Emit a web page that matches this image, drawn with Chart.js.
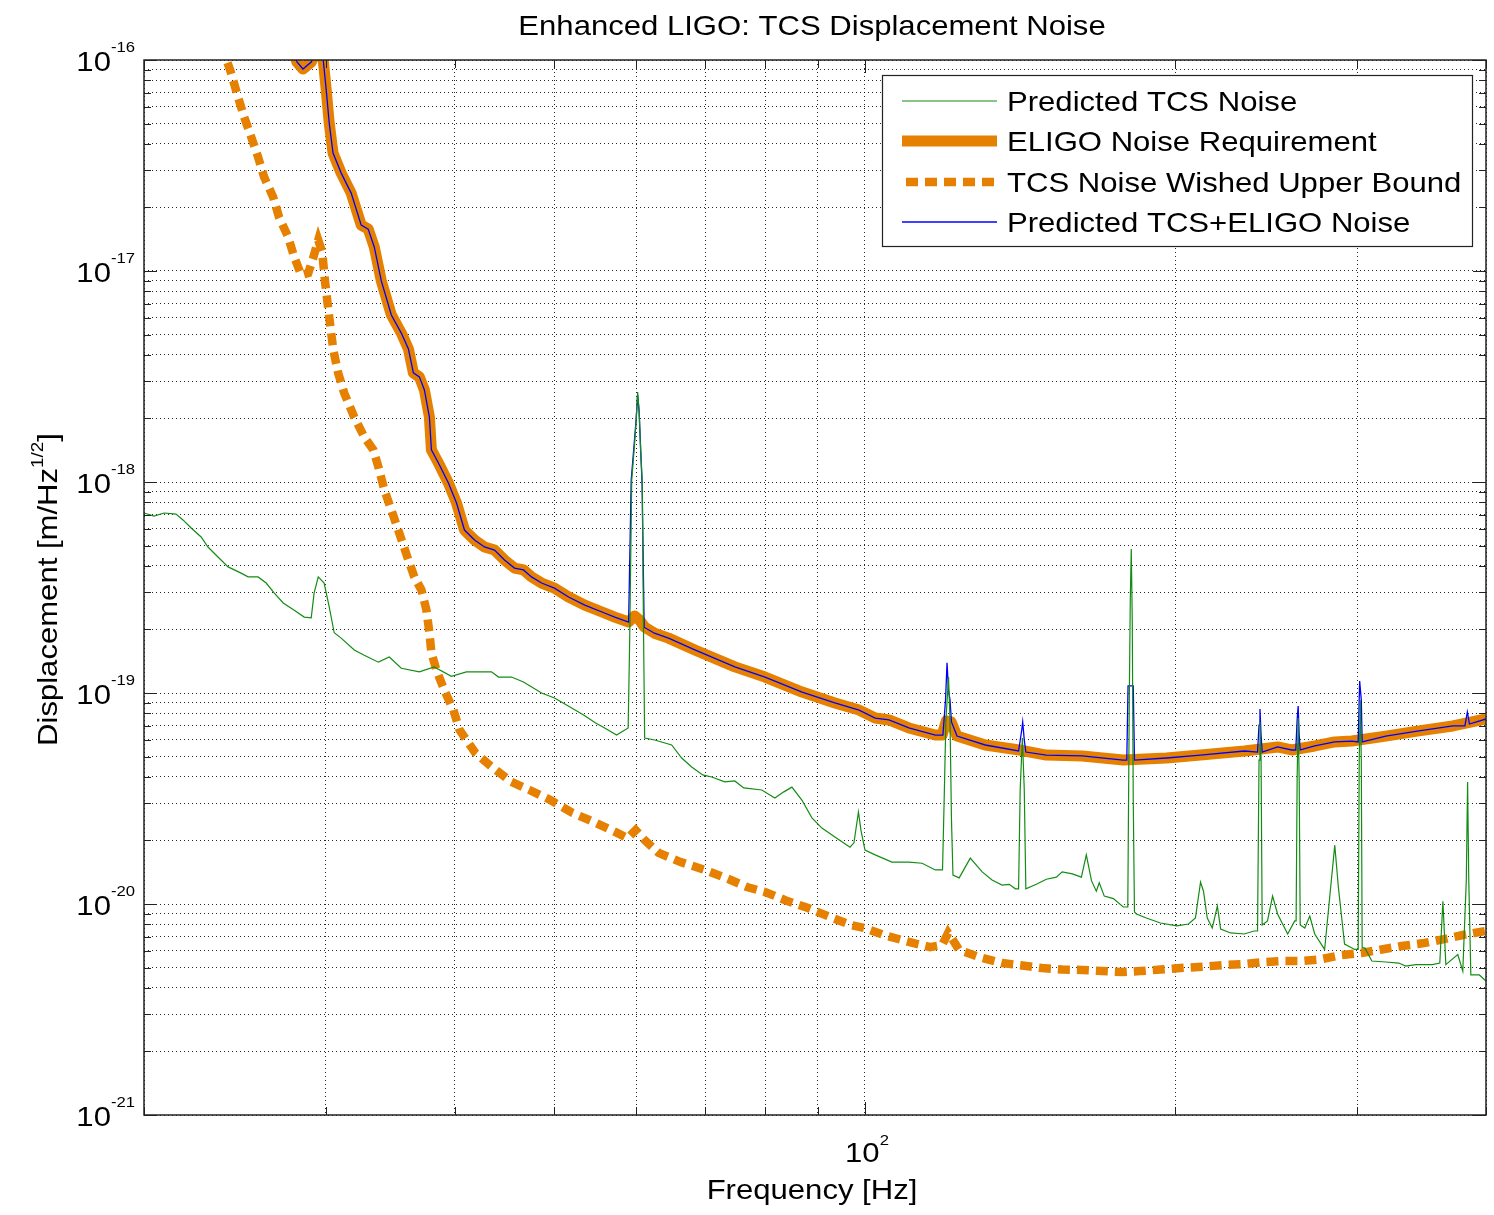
<!DOCTYPE html>
<html>
<head>
<meta charset="utf-8">
<title>Enhanced LIGO: TCS Displacement Noise</title>
<script src="https://cdn.jsdelivr.net/npm/chart.js@4.4.1/dist/chart.umd.min.js"></script>
<style>
  html, body { margin: 0; padding: 0; background: #fff; }
  #wrap { width: 1494px; height: 1215px; }
</style>
</head>
<body>
<div id="wrap"><canvas id="noiseChart" width="1494" height="1215"></canvas></div>
<script>
// Values (Hz, m/rtHz)

// ELIGO noise requirement (thick orange)
const reqFreq = [27.65, 28.14, 28.52, 29.05, 29.44, 29.84, 30.04, 30.24, 30.50, 31.06,
  31.76, 32.48, 32.99, 33.44, 33.97, 34.74, 35.52, 36.09, 36.49, 36.98,
  37.40, 37.82, 37.99, 38.59, 39.46, 40.18, 40.90, 41.83, 42.77, 43.74,
  44.72, 45.73, 46.66, 47.50, 48.58, 50.0, 51.6, 53.5, 55.6, 57.2,
  59.0, 59.8, 60.45, 61.1, 62.5, 64.5, 68.4, 74.8, 80.0, 86.9,
  93.5, 98.7, 102.3, 105.5, 110.3, 117.0, 118.8, 119.9, 121.2, 122.8,
  130.8, 141.1, 149.9, 162.4, 178.0, 196.0, 211.5, 233.3, 251.2, 259.2,
  272.9, 285.4, 296.5, 319.8, 344.3, 371.5, 400];
const reqAsd = [1.244e-16, 9.78e-17, 9.06e-17, 9.78e-17, 1.115e-16, 1.0e-16, 7.21e-17, 5.03e-17, 3.62e-17, 2.91e-17,
  2.34e-17, 1.65e-17, 1.58e-17, 1.30e-17, 8.97e-18, 6.19e-18, 5.08e-18, 4.27e-18, 3.29e-18, 3.15e-18,
  2.73e-18, 2.03e-18, 1.42e-18, 1.23e-18, 9.89e-19, 7.95e-19, 5.92e-19, 5.31e-19, 4.92e-19, 4.76e-19,
  4.27e-19, 3.91e-19, 3.83e-19, 3.55e-19, 3.32e-19, 3.14e-19, 2.85e-19, 2.61e-19, 2.42e-19, 2.29e-19,
  2.17e-19, 2.32e-19, 2.22e-19, 2.06e-19, 1.92e-19, 1.82e-19, 1.60e-19, 1.33e-19, 1.19e-19, 1.01e-19,
  8.97e-20, 8.30e-20, 7.61e-20, 7.45e-20, 6.83e-20, 6.32e-20, 6.32e-20, 7.37e-20, 7.30e-20, 6.25e-20,
  5.67e-20, 5.37e-20, 5.08e-20, 5.03e-20, 4.81e-20, 4.92e-20, 5.08e-20, 5.31e-20, 5.55e-20, 5.37e-20,
  5.61e-20, 5.86e-20, 5.92e-20, 6.25e-20, 6.61e-20, 6.98e-20, 7.53e-20];

// TCS noise wished upper bound (dashed orange)
const boundFreq = [23.75, 24.24, 24.67, 25.01, 25.41, 25.80, 26.15, 26.68, 27.04, 27.59,
  27.97, 28.41, 28.86, 29.17, 29.51, 29.77, 29.97, 30.24, 30.52, 30.85,
  31.27, 31.98, 32.70, 33.37, 33.75, 34.20, 34.74, 35.36, 36.0, 36.57,
  37.15, 37.57, 37.82, 37.99, 38.41, 39.10, 39.90, 40.45, 41.92, 43.24,
  45.42, 47.29, 49.55, 52.06, 54.57, 57.32, 58.88, 59.94, 61.15, 63.10,
  66.27, 69.93, 73.28, 76.98, 80.0, 83.81, 88.07, 92.48, 96.92, 100.0,
  104.3, 110.3, 115.6, 118.8, 120.4, 121.7, 123.4, 129.9, 135.8, 142.1,
  148.5, 155.3, 162.4, 169.8, 177.6, 184.9, 193.4, 202.2, 212.9, 223.1,
  233.3, 244.0, 254.0, 265.0, 275.9, 289.8, 303.0, 316.9, 331.4, 347.0,
  363.3, 379.8, 400];
const boundAsd = [1.18e-16, 8.97e-17, 6.68e-17, 5.37e-17, 4.31e-17, 3.47e-17, 2.79e-17, 2.24e-17, 1.80e-17, 1.45e-17,
  1.165e-17, 9.57e-18, 9.78e-18, 1.15e-17, 1.40e-17, 1.23e-17, 8.77e-18, 6.05e-18, 4.22e-18, 3.29e-18,
  2.64e-18, 2.03e-18, 1.635e-18, 1.42e-18, 1.18e-18, 9.17e-19, 7.37e-19, 5.73e-19, 4.41e-19, 3.55e-19,
  3.08e-19, 2.47e-19, 1.93e-19, 1.55e-19, 1.29e-19, 1.03e-19, 8.31e-20, 6.68e-20, 5.19e-20, 4.56e-20,
  3.79e-20, 3.47e-20, 3.11e-20, 2.70e-20, 2.45e-20, 2.19e-20, 2.05e-20, 2.24e-20, 2.01e-20, 1.745e-20,
  1.58e-20, 1.45e-20, 1.33e-20, 1.20e-20, 1.14e-20, 1.04e-20, 9.57e-21, 8.68e-21, 7.95e-21, 7.69e-21,
  7.13e-21, 6.61e-21, 6.25e-21, 6.39e-21, 7.29e-21, 6.75e-21, 6.05e-21, 5.55e-21, 5.25e-21, 5.11e-21,
  4.97e-21, 4.89e-21, 4.87e-21, 4.81e-21, 4.76e-21, 4.81e-21, 4.89e-21, 4.97e-21, 5.05e-21, 5.14e-21,
  5.19e-21, 5.31e-21, 5.37e-21, 5.37e-21, 5.46e-21, 5.73e-21, 5.86e-21, 6.09e-21, 6.32e-21, 6.51e-21,
  6.80e-21, 7.13e-21, 7.45e-21];

// Predicted TCS noise (thin green)
const tcsFreq = [20.0, 20.45, 20.92, 21.48, 21.82, 22.22, 22.72, 23.07, 23.59, 24.13,
  24.84, 25.23, 25.80, 26.27, 26.74, 27.29, 27.97, 28.60, 29.05, 29.24,
  29.51, 29.90, 30.24, 30.58, 31.06, 31.98, 32.70, 33.75, 34.58, 35.52,
  36.98, 38.23, 39.72, 41.08, 43.44, 44.13, 45.42, 46.66, 48.58, 50.0,
  51.37, 53.36, 54.81, 55.93, 57.44, 58.94, 59.14, 59.41, 59.80, 60.00,
  60.20, 60.40, 60.60, 60.81, 61.01, 61.15, 62.53, 64.95, 66.42, 67.92,
  69.61, 71.03, 73.12, 74.78, 76.29, 79.43, 81.77, 83.44, 84.95, 86.86,
  88.83, 90.83, 93.51, 96.70, 97.57, 98.55, 99.10, 100.0, 102.3, 106.2,
  110.3, 113.6, 117.0, 118.9, 119.3, 119.8, 120.5, 120.9, 121.3, 121.7,
  123.4, 126.5, 129.9, 132.8, 135.8, 138.0, 139.9, 140.9, 141.4, 142.1,
  142.7, 143.2, 146.6, 149.9, 153.3, 155.3, 158.9, 162.1, 163.9, 165.8,
  167.6, 168.7, 170.6, 174.1, 178.0, 179.8, 180.4, 180.8, 181.2, 181.6,
  182.0, 182.5, 183.3, 187.4, 193.4, 200.6, 205.9, 209.1, 211.5, 212.9,
  214.7, 217.1, 219.6, 221.2, 226.2, 233.1, 238.4, 240.2, 241.0, 241.5,
  242.1, 242.7, 245.6, 248.4, 251.2, 256.9, 261.0, 261.8, 262.4, 263.0,
  263.6, 264.2, 266.9, 269.9, 272.9, 279.0, 282.2, 285.4, 287.7, 291.7,
  298.4, 300.7, 301.4, 302.1, 302.8, 303.4, 305.2, 310.0, 319.8, 329.2,
  334.4, 342.0, 354.8, 360.8, 363.3, 365.7, 375.6, 379.8, 382.8, 383.9,
  384.9, 386.7, 394.1, 400];
const tcsAsd = [7.13e-19, 6.90e-19, 7.13e-19, 7.05e-19, 6.61e-19, 6.05e-19, 5.49e-19, 4.92e-19, 4.41e-19, 3.96e-19,
  3.70e-19, 3.55e-19, 3.55e-19, 3.32e-19, 2.98e-19, 2.67e-19, 2.47e-19, 2.29e-19, 2.27e-19, 2.98e-19,
  3.55e-19, 3.32e-19, 2.56e-19, 1.93e-19, 1.82e-19, 1.60e-19, 1.51e-19, 1.40e-19, 1.48e-19, 1.31e-19,
  1.26e-19, 1.33e-19, 1.20e-19, 1.26e-19, 1.26e-19, 1.19e-19, 1.19e-19, 1.127e-19, 1.00e-19, 9.47e-20,
  8.77e-20, 7.87e-20, 7.21e-20, 6.83e-20, 6.32e-20, 6.83e-20, 1.78e-19, 1.02e-18, 1.53e-18, 1.97e-18,
  2.67e-18, 2.19e-18, 1.42e-18, 1.02e-18, 1.78e-19, 6.12e-20, 5.99e-20, 5.67e-20, 4.92e-20, 4.46e-20,
  4.09e-20, 4.00e-20, 3.79e-20, 3.83e-20, 3.55e-20, 3.47e-20, 3.18e-20, 3.40e-20, 3.58e-20, 3.11e-20,
  2.56e-20, 2.29e-20, 2.08e-20, 1.86e-20, 1.95e-20, 2.73e-20, 2.24e-20, 1.80e-20, 1.71e-20, 1.58e-20,
  1.58e-20, 1.56e-20, 1.45e-20, 1.45e-20, 2.94e-20, 7.45e-20, 1.19e-19, 7.45e-20, 2.50e-20, 1.37e-20,
  1.33e-20, 1.65e-20, 1.42e-20, 1.30e-20, 1.23e-20, 1.24e-20, 1.18e-20, 1.18e-20, 3.47e-20, 6.12e-20,
  3.47e-20, 1.18e-20, 1.24e-20, 1.31e-20, 1.34e-20, 1.42e-20, 1.39e-20, 1.34e-20, 1.71e-20, 1.29e-20,
  1.15e-20, 1.26e-20, 1.09e-20, 1.06e-20, 9.68e-21, 9.68e-21, 9.27e-20, 2.76e-19, 4.81e-19, 2.22e-19,
  3.11e-20, 9.17e-21, 8.97e-21, 8.58e-21, 8.13e-21, 7.87e-21, 8.04e-21, 8.58e-21, 1.27e-20, 1.15e-20,
  8.58e-21, 7.69e-21, 9.78e-21, 7.61e-21, 7.29e-21, 7.21e-21, 7.45e-21, 7.45e-21, 4.81e-20, 7.29e-20,
  4.81e-20, 7.95e-21, 8.31e-21, 1.09e-20, 8.97e-21, 7.21e-21, 8.31e-21, 8.31e-21, 3.87e-20, 7.61e-20,
  3.87e-20, 7.95e-21, 7.69e-21, 8.77e-21, 7.21e-21, 6.09e-21, 1.08e-20, 1.90e-20, 1.20e-20, 6.46e-21,
  6.09e-21, 6.09e-21, 4.81e-20, 9.27e-20, 4.81e-20, 6.19e-21, 6.19e-21, 5.37e-21, 5.31e-21, 5.25e-21,
  5.08e-21, 5.16e-21, 5.16e-21, 5.25e-21, 1.03e-20, 5.16e-21, 5.76e-21, 4.81e-21, 1.30e-20, 3.79e-20,
  1.30e-20, 4.61e-21, 4.61e-21, 4.31e-21];

// Predicted TCS+ELIGO noise (thin blue)
const sumFreq = [27.65, 28.14, 28.52, 29.05, 29.44, 29.84, 30.04, 30.24, 30.50, 31.06,
  31.76, 32.48, 32.99, 33.44, 33.97, 34.74, 35.52, 36.09, 36.49, 36.98,
  37.40, 37.82, 37.99, 38.59, 39.46, 40.18, 40.90, 41.83, 42.77, 43.74,
  44.72, 45.73, 46.66, 47.50, 48.58, 50.0, 51.6, 53.5, 55.6, 57.2,
  59.0, 59.34, 60.0, 60.2, 60.4, 60.81, 61.08, 62.5, 64.5, 68.4,
  74.8, 80.0, 86.9, 93.5, 98.7, 102.3, 105.5, 110.3, 117.0, 119.0,
  119.7, 120.1, 120.5, 120.9, 121.3, 122.8, 130.8, 140.9, 141.9, 142.2,
  142.7, 143.2, 149.9, 162.4, 178.0, 179.4, 179.9, 182.0, 182.5, 196.0,
  211.5, 233.3, 240.2, 241.0, 241.5, 242.1, 242.7, 251.2, 259.2, 261.6,
  262.4, 263.0, 263.6, 264.2, 272.9, 285.4, 296.5, 300.7, 301.7, 302.8,
  303.4, 319.8, 344.3, 371.5, 381.6, 383.7, 385.5, 400];
const sumAsd = [1.244e-16, 9.78e-17, 9.06e-17, 9.78e-17, 1.115e-16, 1.0e-16, 7.21e-17, 5.03e-17, 3.62e-17, 2.91e-17,
  2.34e-17, 1.65e-17, 1.58e-17, 1.30e-17, 8.97e-18, 6.19e-18, 5.08e-18, 4.27e-18, 3.29e-18, 3.15e-18,
  2.73e-18, 2.03e-18, 1.42e-18, 1.23e-18, 9.89e-19, 7.95e-19, 5.92e-19, 5.31e-19, 4.92e-19, 4.76e-19,
  4.27e-19, 3.91e-19, 3.83e-19, 3.55e-19, 3.32e-19, 3.14e-19, 2.85e-19, 2.61e-19, 2.42e-19, 2.29e-19,
  2.17e-19, 1.02e-18, 1.97e-18, 2.58e-18, 2.15e-18, 9.68e-19, 2.05e-19, 1.92e-19, 1.82e-19, 1.60e-19,
  1.33e-19, 1.19e-19, 1.01e-19, 8.97e-20, 8.30e-20, 7.61e-20, 7.45e-20, 6.83e-20, 6.32e-20, 6.32e-20,
  9.27e-20, 1.39e-19, 1.03e-19, 9.27e-20, 7.29e-20, 6.25e-20, 5.67e-20, 5.31e-20, 6.68e-20, 7.29e-20,
  5.99e-20, 5.25e-20, 5.08e-20, 5.03e-20, 4.81e-20, 4.81e-20, 1.08e-19, 1.08e-19, 4.81e-20, 4.92e-20,
  5.08e-20, 5.31e-20, 5.25e-20, 7.05e-20, 8.40e-20, 6.32e-20, 5.25e-20, 5.55e-20, 5.37e-20, 5.37e-20,
  7.45e-20, 8.68e-20, 6.32e-20, 5.37e-20, 5.61e-20, 5.86e-20, 5.92e-20, 5.86e-20, 1.14e-19, 9.27e-20,
  5.86e-20, 6.25e-20, 6.61e-20, 6.98e-20, 6.98e-20, 8.13e-20, 7.13e-20, 7.53e-20];

// axis ticks / grid
const xGrid = [20, 30, 40, 50, 60, 70, 80, 90, 100, 200, 300, 400];
const xLabelled = [100];
const yDecades = [-21, -20, -19, -18, -17, -16];

const FONT = '"Liberation Sans", Arial, Helvetica, sans-serif';
const STRETCH = 1.11; // the original text is a little wide

function toPoints(xs, ys) {
  return xs.map((x, i) => ({ x: x, y: ys[i] }));
}

// grid values for y: 1..9 x 10^n in every decade
const yGrid = [];
yDecades.forEach(function (e, k) {
  if (k === yDecades.length - 1) { yGrid.push(Math.pow(10, e)); return; }
  for (let m = 1; m <= 9; m++) yGrid.push(m * Math.pow(10, e));
});

function textWidth(ctx, str, size) {
  ctx.font = size + 'px ' + FONT;
  return ctx.measureText(str).width * STRETCH;
}

function drawText(ctx, str, x, y, size, align, angle) {
  ctx.save();
  ctx.translate(x, y);
  if (angle) ctx.rotate(angle);
  ctx.scale(STRETCH, 1);
  ctx.font = size + 'px ' + FONT;
  ctx.textAlign = align || 'left';
  ctx.textBaseline = 'alphabetic';
  ctx.fillStyle = '#000';
  ctx.fillText(str, 0, 0);
  ctx.restore();
}

const frameAndText = {
  id: 'frameAndText',
  afterDraw(chart) {
    const ctx = chart.ctx;
    const a = chart.chartArea;
    const xs = chart.scales.x;
    const ys = chart.scales.y;

    ctx.save();
    // ticks
    ctx.strokeStyle = '#222';
    ctx.lineWidth = 1;
    ctx.beginPath();
    yGrid.forEach(function (v) {
      const py = Math.round(ys.getPixelForValue(v)) + 0.5;
      const major = Math.abs(Math.log10(v) - Math.round(Math.log10(v))) < 1e-9;
      const len = major ? 13 : 7;
      ctx.moveTo(a.left, py); ctx.lineTo(a.left + len, py);
      ctx.moveTo(a.right, py); ctx.lineTo(a.right - len, py);
    });
    xGrid.forEach(function (v) {
      const px = Math.round(xs.getPixelForValue(v)) + 0.5;
      const len = xLabelled.indexOf(v) >= 0 ? 13 : 8;
      ctx.moveTo(px, a.bottom); ctx.lineTo(px, a.bottom - len);
      ctx.moveTo(px, a.top); ctx.lineTo(px, a.top + len);
    });
    ctx.stroke();

    // box
    ctx.lineWidth = 1.5;
    ctx.strokeRect(Math.round(a.left), Math.round(a.top), Math.round(a.right - a.left), Math.round(a.bottom - a.top));

    // y tick labels 10^n
    yDecades.forEach(function (e) {
      const py = ys.getPixelForValue(Math.pow(10, e));
      const exp = String(e);
      const ew = textWidth(ctx, exp, 15);
      const right = a.left - 9;
      drawText(ctx, exp, right - ew, py - 8, 15, 'left');
      drawText(ctx, '10', right - ew, py + 11, 28, 'right');
    });

    // x tick labels
    xLabelled.forEach(function (v) {
      const px = xs.getPixelForValue(v);
      const exp = String(Math.round(Math.log10(v)));
      const bw = textWidth(ctx, '10', 28);
      const ew = textWidth(ctx, exp, 15);
      const start = px + 2 - (bw + ew) / 2;
      drawText(ctx, '10', start, a.bottom + 47, 28, 'left');
      drawText(ctx, exp, start + bw, a.bottom + 30, 15, 'left');
    });

    // axis titles and chart title
    drawText(ctx, 'Frequency [Hz]', (a.left + a.right) / 2 - 3, a.bottom + 84, 28, 'center');
    drawText(ctx, 'Enhanced LIGO: TCS Displacement Noise', (a.left + a.right) / 2 - 3, 35, 28, 'center');

    const part1 = 'Displacement [m/Hz';
    const sup = '1/2';
    const part2 = ']';
    const w1 = textWidth(ctx, part1, 28);
    const ws = textWidth(ctx, sup, 17);
    const w2 = textWidth(ctx, part2, 28);
    const total = w1 + ws + w2;
    ctx.save();
    ctx.translate(57, (a.top + a.bottom) / 2 + 2);
    ctx.rotate(-Math.PI / 2);
    drawText(ctx, part1, -total / 2, 0, 28, 'left');
    drawText(ctx, sup, -total / 2 + w1, -14, 17, 'left');
    drawText(ctx, part2, -total / 2 + w1 + ws, 0, 28, 'left');
    ctx.restore();

    // legend
    const lx = 882.5, ly = 75.5, lw = 590, lh = 171;
    ctx.fillStyle = '#fff';
    ctx.fillRect(lx, ly, lw, lh);
    ctx.strokeStyle = '#222';
    ctx.lineWidth = 1.2;
    ctx.strokeRect(lx, ly, lw, lh);
    const rows = [101, 141, 182, 222];
    const legendOrder = [0, 1, 2, 3];
    legendOrder.forEach(function (idx, r) {
      const ds = chart.data.datasets[idx];
      const yy = rows[r];
      ctx.save();
      ctx.strokeStyle = ds.borderColor;
      ctx.lineWidth = ds.borderWidth;
      ctx.setLineDash(ds.borderDash || []);
      ctx.lineCap = 'butt';
      ctx.beginPath();
      ctx.moveTo(ds.borderDash ? 906 : 902, yy);
      ctx.lineTo(997, yy);
      ctx.stroke();
      ctx.restore();
      drawText(ctx, ds.label, 1007, yy + 10, 28, 'left');
    });
    ctx.restore();
  }
};

const ctx = document.getElementById('noiseChart').getContext('2d');
const noiseChart = new Chart(ctx, {
  type: 'line',
  data: {
    datasets: [
      {
        label: 'Predicted TCS Noise',
        data: toPoints(tcsFreq, tcsAsd),
        borderColor: 'rgb(20, 140, 20)',
        borderWidth: 1.2,
        order: 0
      },
      {
        label: 'ELIGO Noise Requirement',
        data: toPoints(reqFreq, reqAsd),
        borderColor: 'rgb(230, 128, 0)',
        borderWidth: 11,
        borderJoinStyle: 'round',
        order: 3
      },
      {
        label: 'TCS Noise Wished Upper Bound',
        data: toPoints(boundFreq, boundAsd),
        borderColor: 'rgb(230, 128, 0)',
        borderWidth: 8.5,
        borderDash: [12, 7],
        order: 2
      },
      {
        label: 'Predicted TCS+ELIGO Noise',
        data: toPoints(sumFreq, sumAsd),
        borderColor: 'rgb(0, 0, 255)',
        borderWidth: 1.3,
        order: 1
      }
    ]
  },
  options: {
    responsive: false,
    animation: false,
    devicePixelRatio: 1,
    layout: { padding: { left: 144, right: 8, top: 60, bottom: 100 } },
    elements: {
      point: { radius: 0, hoverRadius: 0 },
      line: { tension: 0, fill: false }
    },
    datasets: { line: { clip: 0 } },
    plugins: {
      legend: { display: false },
      title: { display: false },
      tooltip: { enabled: false }
    },
    events: [],
    scales: {
      x: {
        type: 'logarithmic',
        min: 20,
        max: 400,
        afterBuildTicks: function (axis) {
          axis.ticks = xGrid.map(v => ({ value: v }));
        },
        ticks: { display: false },
        grid: { color: 'rgba(0,0,0,0.85)', lineWidth: 1, drawTicks: false },
        border: { display: false, dash: [1, 3] }
      },
      y: {
        type: 'logarithmic',
        min: 1e-21,
        max: 1e-16,
        afterBuildTicks: function (axis) {
          axis.ticks = yGrid.map(v => ({ value: v }));
        },
        ticks: { display: false },
        grid: { color: 'rgba(0,0,0,0.85)', lineWidth: 1, drawTicks: false },
        border: { display: false, dash: [1, 3] }
      }
    }
  },
  plugins: [frameAndText]
});
</script>
</body>
</html>
